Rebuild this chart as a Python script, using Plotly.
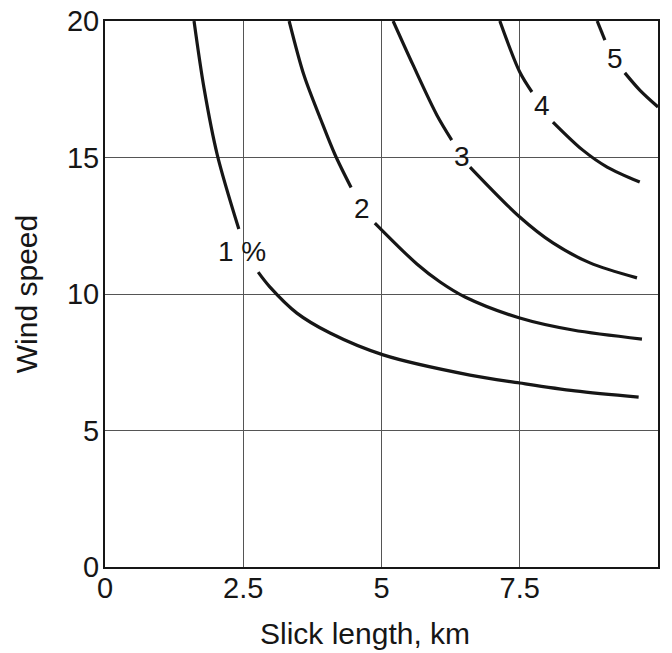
import plotly.graph_objects as go

# Slick length (km) vs wind speed, one curve per percentage level.
# Each curve is drawn as two pieces, broken where its label sits.
levels = ["1 %", "2", "3", "4", "5"]

c1_upper_x = [1.61, 1.79, 2.03, 2.42]
c1_upper_y = [20.0, 17.55, 15.1, 12.38]
c1_lower_x = [2.77, 2.98, 3.47, 4.07, 5.03, 6.60, 7.50, 8.50, 9.65]
c1_lower_y = [10.8, 10.26, 9.30, 8.57, 7.77, 7.03, 6.74, 6.45, 6.22]

c2_upper_x = [3.33, 3.60, 3.90, 4.16, 4.45]
c2_upper_y = [20.0, 18.0, 16.4, 15.1, 13.9]
c2_lower_x = [4.88, 5.64, 6.06, 6.51, 7.50, 8.46, 9.71]
c2_lower_y = [12.6, 11.1, 10.44, 9.89, 9.12, 8.68, 8.35]

c3_upper_x = [5.21, 5.57, 6.00, 6.27]
c3_upper_y = [20.0, 18.39, 16.56, 15.64]
c3_lower_x = [6.60, 7.50, 8.10, 8.77, 9.62]
c3_lower_y = [14.65, 12.82, 11.87, 11.14, 10.59]

c4_upper_x = [7.14, 7.50, 7.72]
c4_upper_y = [20.0, 18.13, 17.4]
c4_lower_x = [8.10, 8.64, 9.08, 9.67]
c4_lower_y = [16.3, 15.27, 14.65, 14.1]

c5_upper_x = [8.90, 9.04]
c5_upper_y = [20.0, 19.3]
c5_lower_x = [9.40, 9.67, 10.0]
c5_lower_y = [18.1, 17.47, 16.85]

# label positions on each curve (x km, y wind speed)
label_x = [2.48, 4.65, 6.46, 7.90, 9.22]
label_y = [11.54, 13.15, 15.05, 16.90, 18.64]

x_ticks = [0, 2.5, 5, 7.5, 10]
x_tick_text = ["0", "2.5", "5", "7.5", "10"]
y_ticks = [0, 5, 10, 15, 20]
y_tick_text = ["0", "5", "10", "15", "20"]

x_title = "Slick length, km"
y_title = "Wind speed"

curves = [
    (c1_upper_x, c1_upper_y, c1_lower_x, c1_lower_y),
    (c2_upper_x, c2_upper_y, c2_lower_x, c2_lower_y),
    (c3_upper_x, c3_upper_y, c3_lower_x, c3_lower_y),
    (c4_upper_x, c4_upper_y, c4_lower_x, c4_lower_y),
    (c5_upper_x, c5_upper_y, c5_lower_x, c5_lower_y),
]

FONT = "Liberation Sans, Arial, sans-serif"
INK = "#161616"

fig = go.Figure()
for name, (ux, uy, lx, ly) in zip(levels, curves):
    for xs, ys in ((ux, uy), (lx, ly)):
        fig.add_trace(go.Scatter(
            x=xs, y=ys, mode="lines", name=name, showlegend=False,
            line=dict(color=INK, width=3.2, shape="spline", smoothing=0.9),
            hoverinfo="skip",
        ))

for text, lx, ly in zip(levels, label_x, label_y):
    fig.add_annotation(
        x=lx, y=ly, text=text, showarrow=False,
        font=dict(family=FONT, size=28, color=INK),
        xanchor="center", yanchor="middle",
    )

# x-axis title sits a little left of the plot centre
fig.add_annotation(
    x=0.5, y=0, xref="paper", yref="paper", text=x_title, showarrow=False,
    font=dict(family=FONT, size=30, color=INK),
    xanchor="center", yanchor="middle", xshift=-17, yshift=-66,
)

axis_common = dict(
    showline=True, linecolor=INK, linewidth=2, mirror=True,
    showgrid=True, gridcolor="#555555", gridwidth=1,
    zeroline=False, ticks="",
    tickfont=dict(family=FONT, size=29, color=INK),
)

fig.update_xaxes(
    range=[0, 10], tickvals=x_ticks, ticktext=x_tick_text,
    ticklabelstandoff=-6,
    **axis_common,
)
fig.update_yaxes(
    range=[0, 20], tickvals=y_ticks, ticktext=y_tick_text,
    title=dict(text=y_title, font=dict(family=FONT, size=30, color=INK), standoff=20),
    ticklabelstandoff=-2,
    **axis_common,
)

fig.update_layout(
    width=672, height=653,
    margin=dict(l=105, r=14, t=21, b=86, autoexpand=False),
    paper_bgcolor="white", plot_bgcolor="white",
    showlegend=False,
)

fig.write_html("out.html")
